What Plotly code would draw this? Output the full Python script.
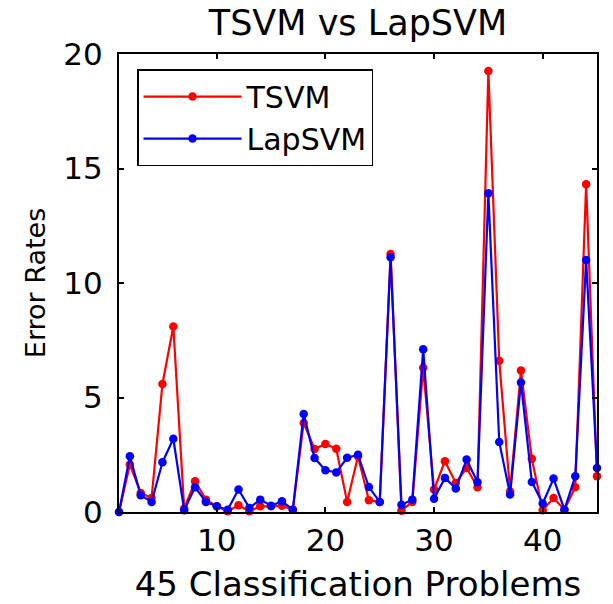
import plotly.graph_objects as go

problems = list(range(1, 46))
tsvm = [0, 2.07, 0.83, 0.61, 5.59, 8.1, 0.15, 1.34, 0.54, 0.25, 0.03, 0.29, 0.03,
        0.25, 0.25, 0.27, 0.1, 3.89, 2.75, 2.97, 2.76, 0.44, 2.43, 0.51, 0.44,
        11.27, 0.06, 0.44, 6.3, 0.98, 2.22, 1.27, 1.92, 1.08, 19.26, 6.6, 0.9,
        6.18, 2.32, 0.08, 0.61, 0.1, 1.08, 14.31, 1.56]
lapsvm = [0, 2.43, 0.73, 0.44, 2.17, 3.2, 0.08, 1.08, 0.44, 0.25, 0.1, 0.98, 0.18,
          0.54, 0.27, 0.47, 0.1, 4.28, 2.36, 1.82, 1.73, 2.37, 2.5, 1.09, 0.44,
          11.12, 0.32, 0.54, 7.11, 0.58, 1.49, 1.03, 2.29, 1.3, 13.92, 3.06, 0.76,
          5.66, 1.31, 0.37, 1.46, 0.1, 1.56, 11.0, 1.92]
x_ticks = [10, 20, 30, 40]
y_ticks = [0, 5, 10, 15, 20]

FONT = "DejaVu Sans"

fig = go.Figure()
fig.add_trace(go.Scatter(x=problems, y=tsvm, name="TSVM", mode="lines+markers",
                         line=dict(color="#FF0000", width=2.2),
                         marker=dict(color="#FF0000", size=8.5), cliponaxis=False))
fig.add_trace(go.Scatter(x=problems, y=lapsvm, name="LapSVM", mode="lines+markers",
                         line=dict(color="#0000FF", width=2.2),
                         marker=dict(color="#0000FF", size=8.5), cliponaxis=False))

axis_common = dict(showline=True, linecolor="black", linewidth=2, mirror="ticks",
                   ticks="inside", ticklen=5, tickwidth=1.5, tickcolor="black",
                   showgrid=False, zeroline=False, automargin=False,
                   tickfont=dict(family=FONT, size=31, color="black"))

fig.update_layout(
    width=613, height=604,
    margin=dict(l=119, r=16, t=54, b=92),
    paper_bgcolor="white", plot_bgcolor="white",
    title=dict(text="TSVM vs LapSVM", x=(119 + 597) / 2 / 613, xanchor="center",
               y=1 - 23 / 604, yanchor="middle",
               font=dict(family=FONT, size=35, color="black")),
    xaxis=dict(range=[1, 45], tickvals=x_ticks,
               title=dict(text="45 Classification Problems", standoff=22,
                          font=dict(family=FONT, size=34, color="black")),
               **axis_common),
    yaxis=dict(range=[0, 20], tickvals=y_ticks, ticklabelstandoff=8,
               title=dict(text="Error Rates", standoff=10,
                          font=dict(family=FONT, size=27, color="black")),
               **axis_common),
    legend=dict(x=0.0377, y=0.967, xanchor="left", yanchor="top",
                bordercolor="black", borderwidth=1.5, bgcolor="white",
                font=dict(family=FONT, size=30, color="black"),
                itemwidth=98, tracegroupgap=0),
    showlegend=True,
)

fig.write_html("out.html")
